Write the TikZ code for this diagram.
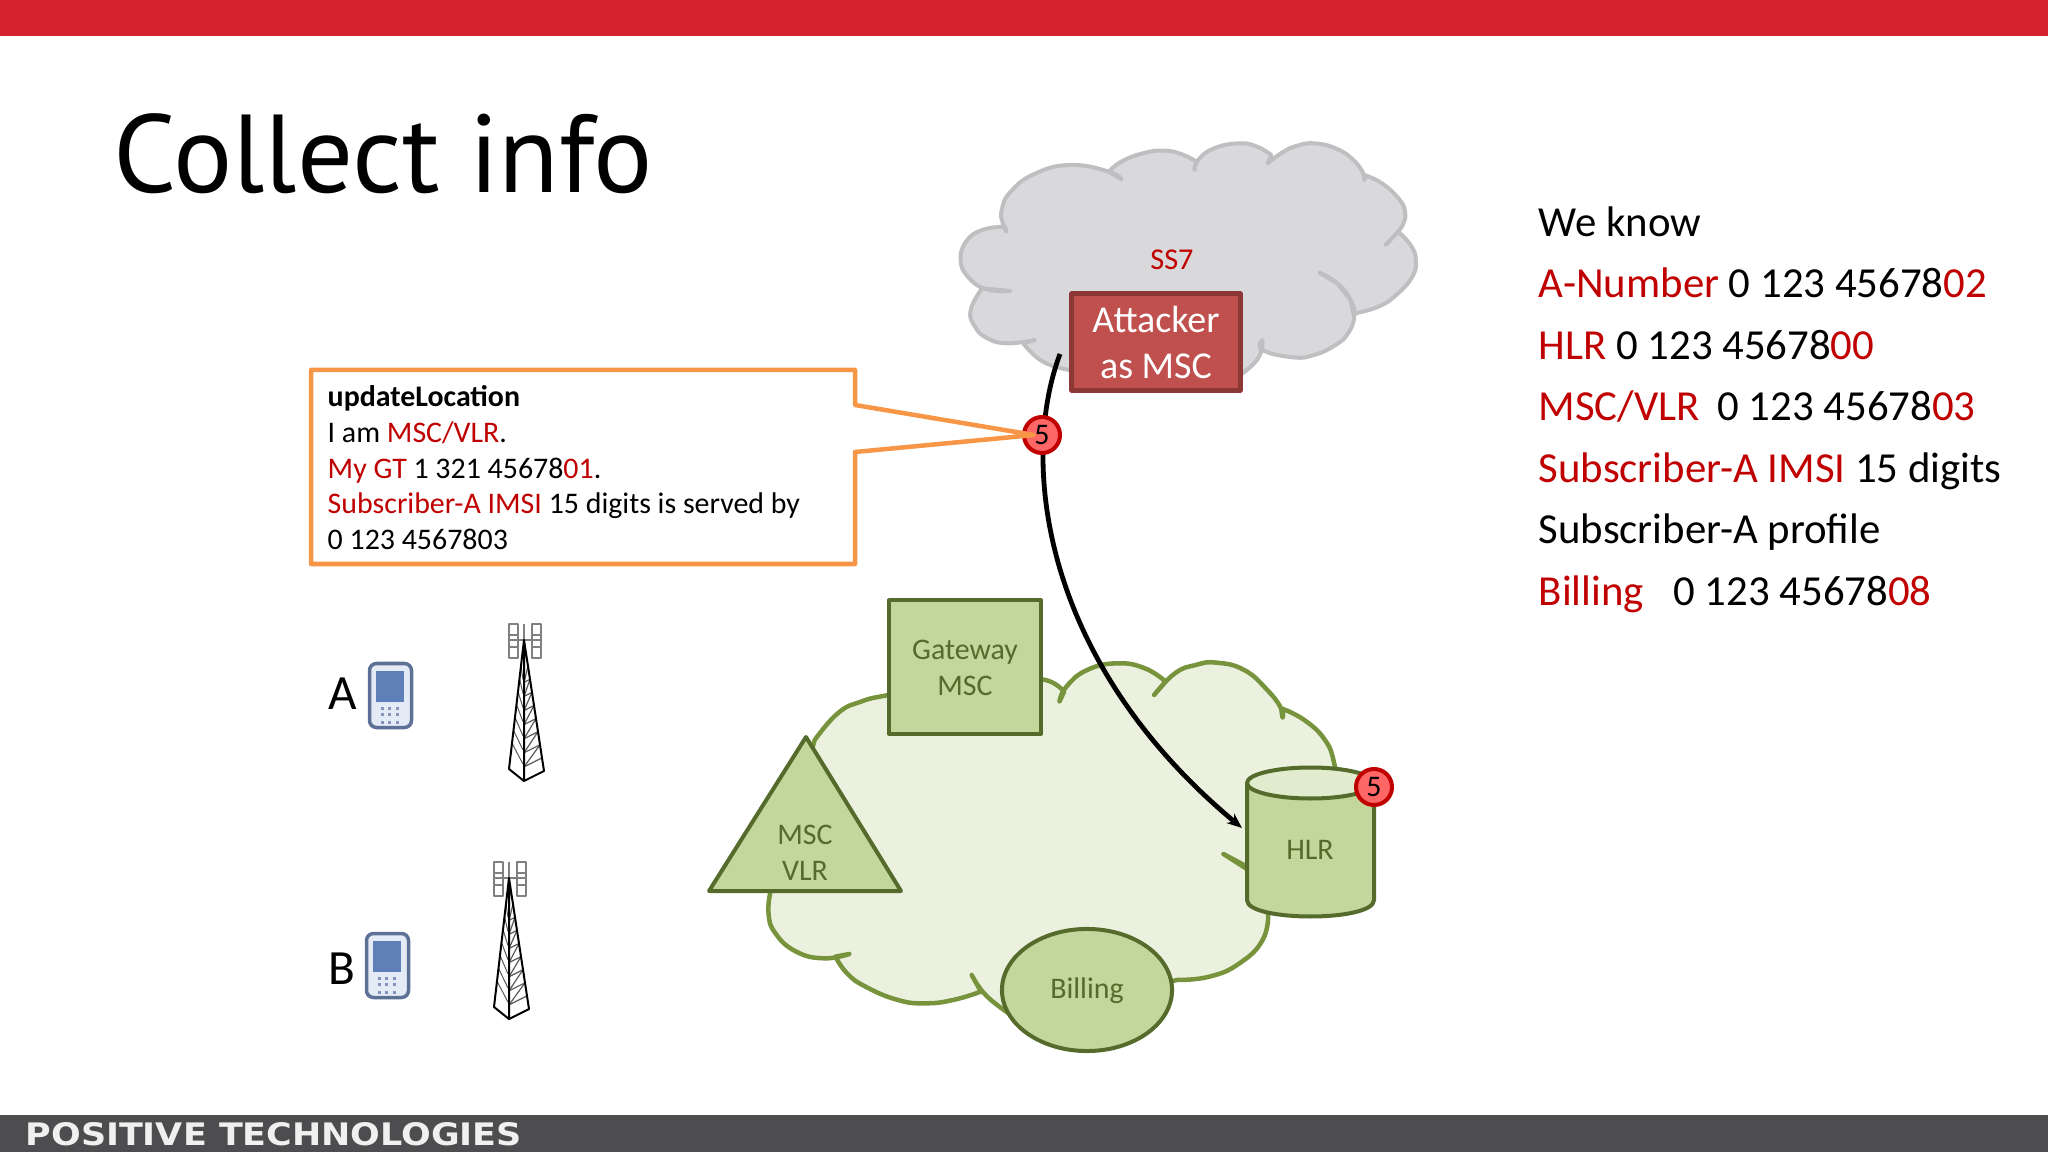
\documentclass[tikz,border=0pt]{standalone}
\usepackage{fontspec}
\usepackage{graphicx}
\setmainfont{Carlito}
\newfontfamily\titlefont{PT Sans}
\newfontfamily\footfont{DejaVu Sans}
\usetikzlibrary{shapes.geometric,arrows.meta}
\definecolor{barred}{HTML}{D5222E}
\definecolor{bargray}{HTML}{4D4D4F}
\definecolor{sigred}{HTML}{C00000}
\definecolor{callorange}{HTML}{F79646}
\definecolor{ssfill}{HTML}{D9D8DB}
\definecolor{ssline}{HTML}{BFBFC1}
\definecolor{atkfill}{HTML}{C0504D}
\definecolor{atkline}{HTML}{8C3836}
\definecolor{netfill}{HTML}{EBF1DE}
\definecolor{netline}{HTML}{77933C}
\definecolor{elfill}{HTML}{C3D69B}
\definecolor{elline}{HTML}{556B2B}
\definecolor{eltop}{HTML}{E1EBCD}
\definecolor{phline}{HTML}{5D7096}
\definecolor{phfill}{HTML}{E4EBF6}
\definecolor{phscreen}{HTML}{5F7FB8}
\definecolor{phkey}{HTML}{8492BE}
\newcommand{\redt}[1]{\textcolor{sigred}{#1}}
\newcommand{\smalltxt}{\fontsize{8.5}{10.15}\selectfont}
\tikzset{
  element/.style={draw=elline,fill=elfill,line width=.04cm},
  eltext/.style={text=elline,align=center,inner sep=0pt,font=\smalltxt},
  badge/.style={circle,draw=sigred,fill=red!60!white,line width=.04cm,minimum size=.36cm,inner sep=0pt,font=\smalltxt},
  phone/.pic={
    \draw[draw=phline,fill=phfill,line width=.035cm,rounded corners=.07cm] (1.5,1.5) rectangle (43.5,65.5);
    \fill[phscreen] (8,9) rectangle (36,40);
    \foreach \kx in {14,21,29}
      \foreach \ky in {46,52,60}
        \fill[phkey] (\kx-1.5,\ky-1.5) rectangle (\kx+1.5,\ky+1.5);
  },
  tower/.pic={
    \draw[gray,line width=.012cm] (-15,-16) rectangle (-6,18) (8,-16) rectangle (17,18);
    \draw[gray,line width=.012cm] (-15,-5) -- (-6,-5) (-15,7) -- (-6,7) (8,-5) -- (17,-5) (8,7) -- (17,7);
    \draw[gray,line width=.012cm] (-15,0) -- (17,0) (0,-16) -- (0,0);
    \foreach \t in {.2,.3,...,.9}{
      \draw[black!65,line width=.01cm] ({-15*\t},{129*\t}) -- ({-1},{141*(\t+.08)});
      \draw[black!65,line width=.012cm] ({20*\t},{131*\t}) -- (0,{141*(\t+.1)});
      \draw[black!65,line width=.012cm] (0,{141*(\t+.1)}) -- ({20*(\t+.1)},{131*(\t+.1)});
    }
    \draw[black,line width=.02cm,line join=round] (0,0) -- (-15,129) -- (0,141) -- (20,131) -- cycle (0,0) -- (0,141);
  }
}
\begin{document}
\begin{tikzpicture}[x=.01cm,y=-.01cm,>=stealth,line join=round]
\useasboundingbox (0,0) rectangle (2048,1152);
% bars
\fill[barred] (0,0) rectangle (2048,36);
\fill[bargray] (0,1115) rectangle (2048,1152);
\node[anchor=west,text=white!94!black,inner sep=0pt] (brand) at (25,1134)
  {\resizebox{4.96cm}{.23cm}{\footfont\bfseries POSITIVE TECHNOLOGIES}};
\node[anchor=base west,inner sep=0pt,font=\titlefont\fontsize{31.5}{40}\selectfont] (title) at (113,193) {Collect info};

% SS7 cloud
\begin{scope}[shift={(900,120)},xscale=.357,yscale=.3333,smooth,tension=.8]
\draw[draw=ssline,fill=ssfill,line width=.04cm]
  plot coordinates {(298,335) (288,310) (285,270) (310,215) (380,160) (480,135) (585,155) (620,178)}
  -- plot coordinates {(585,155) (620,125) (680,100) (740,92) (790,103) (830,125)}
  -- plot coordinates {(825,150) (835,120) (880,85) (950,70) (1000,80) (1040,105)}
  -- plot coordinates {(1030,130) (1070,98) (1110,78) (1160,70) (1220,85) (1270,120) (1300,165) (1300,180)}
  -- plot coordinates {(1300,165) (1350,190) (1400,240) (1415,280) (1410,310) (1395,335) (1360,375)}
  -- plot coordinates {(1395,335) (1430,375) (1445,420) (1435,470) (1390,525) (1340,560) (1275,580)}
  -- (1272,590) -- (1262,540) -- (1225,490)
  -- plot coordinates {(1175,458) (1225,490) (1262,540) (1272,590) (1255,640) (1220,675) (1160,705) (1100,712) (1015,690) (1015,660)}
  -- plot coordinates {(1015,680) (1000,720) (960,760)}
  -- (475,750)
  -- plot coordinates {(475,750) (400,725) (345,670)}
  -- plot coordinates {(378,660) (300,670) (245,655) (210,620) (198,570) (230,505)}
  -- plot coordinates {(310,513) (240,507) (190,470) (170,420) (185,365) (230,330) (295,320)}
  -- cycle;
\end{scope}
\node[text=sigred,inner sep=0pt,font=\fontsize{8.6}{10}\selectfont] (ss7) at (1172,260) {SS7};
\node[draw=atkline,fill=atkfill,line width=.05cm,text=white,align=center,inner sep=0pt,
  minimum width=1.68cm,minimum height=.96cm,font=\fontsize{10.8}{13.1}\selectfont] (attacker) at (1156,342) {Attacker\\as MSC};

% home network cloud
\begin{scope}[shift={(690,580)},xscale=.4618,yscale=.3333,smooth,tension=.8]
\draw[draw=netline,fill=netfill,line width=.045cm]
  plot coordinates {(270,480) (320,400) (370,365) (430,345) (540,320)}
  -- plot coordinates {(700,300) (770,300) (810,335)}
  -- plot coordinates {(800,365) (815,320) (860,270) (925,250) (985,265) (1030,305)}
  -- plot coordinates {(1005,345) (1050,280) (1095,255) (1140,248) (1200,270) (1250,330) (1280,385) (1283,413)}
  -- plot coordinates {(1280,385) (1330,420) (1375,480) (1395,550) (1400,620)}
  -- (1400,800) -- (1260,900)
  -- plot coordinates {(1155,822) (1215,875)}
  -- (1255,900)
  -- plot coordinates {(1252,1000) (1240,1080) (1190,1150) (1125,1190) (1055,1200)}
  -- (900,1250) -- (690,1300)
  -- plot coordinates {(690,1300) (640,1245) (610,1185)}
  -- plot coordinates {(630,1235) (570,1260) (510,1270) (450,1260) (380,1220) (340,1180) (315,1130)}
  -- plot coordinates {(345,1122) (290,1135) (230,1115) (185,1060) (170,1000) (175,930)}
  -- cycle;
\end{scope}

% network elements
\node[element,rectangle,minimum width=1.52cm,minimum height=1.33cm,inner sep=0pt] (gateway) at (965,667) {};
\node[eltext] (gwtext) at (965,668) {Gateway\\MSC};
\draw[element] (806,737) -- (709,891) -- (901,891) -- cycle;
\node[eltext] (vlrtext) at (805,853) {MSC\\VLR};
\node[element,ellipse,minimum width=1.7cm,minimum height=1.22cm,inner sep=0pt] (billing) at (1087,990) {};
\node[eltext] (billtext) at (1087,991) {Billing};
\draw[element] (1247,783) -- (1247,900) .. controls (1247,922) and (1374,922) .. (1374,900) -- (1374,783);
\draw[element,fill=eltop] (1310.5,783) ellipse (63.5 and 15.5);
\node[eltext] (hlrtext) at (1310,850) {HLR};

% update location arrow
\coordinate (msgfrom) at (1060,354);
\coordinate (msgto) at (1242,828);
\draw[-{Stealth[length=.15cm,width=.12cm]},line width=.048cm] (msgfrom) .. controls (1020,460) and (1040,660) .. (msgto);

\node[badge] (five) at (1042,435) {};
\node[badge] (hlrfive) at (1374,787) {5};

% callout
\coordinate (tip) at (1034,435);
\draw[draw=callorange,fill=white,line width=.045cm]
  (311,370) -- (855,370) -- (855,405) -- (tip) -- (855,452) -- (855,564) -- (311,564) -- cycle;
\node[inner sep=0pt] at (five) {\smalltxt 5};
\node[anchor=north west,align=left,inner sep=0pt,font=\smalltxt] (calltext) at (327,385)
  {\textbf{updateLocation}\\
   I am \redt{MSC/VLR}.\\
   \redt{My GT} 1 321 45678\redt{01}.\\
   \redt{Subscriber-A IMSI} 15 digits is served by\\
   0 123 4567803};

% subscribers
\node[inner sep=0pt,font=\fontsize{14}{16}\selectfont] (subA) at (343,694) {A};
\node[inner sep=0pt,font=\fontsize{14}{16}\selectfont] (subB) at (342,969) {B};
\pic at (368,662) {phone};
\pic at (365,932) {phone};
\pic at (524,640) {tower};
\pic at (509,878) {tower};

% what is known
\node[anchor=north west,align=left,inner sep=0pt,font=\fontsize{12.17}{17.47}\selectfont] (known) at (1538,206)
  {We know\\
   \redt{A-Number} 0 123 45678\redt{02}\\
   \redt{HLR} 0 123 45678\redt{00}\\
   \redt{MSC/VLR}\hspace{.08cm} 0 123 45678\redt{03}\\
   \redt{Subscriber-A IMSI} 15 digits\\
   Subscriber-A profile\\
   \redt{Billing}\hspace{.2cm} 0 123 45678\redt{08}};
\end{tikzpicture}
\end{document}
